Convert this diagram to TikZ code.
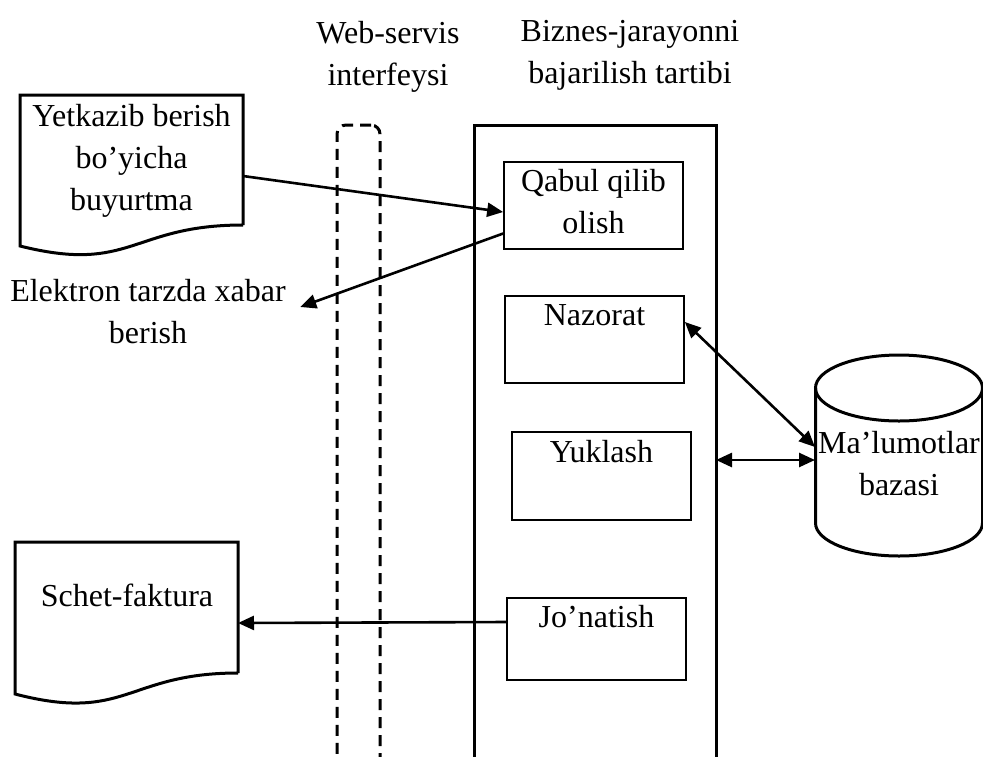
\documentclass[tikz,border=0pt]{standalone}
\usepackage{fontspec}
\setmainfont{Liberation Serif}
\usetikzlibrary{arrows.meta}

\tikzset{
  thickline/.style={line width=3pt},
  dashline/.style={line width=3pt,dash pattern=on 11pt off 7pt},
  stagebox/.style={draw,line width=1.7pt,minimum width=179pt,inner sep=0pt},
  arr/.style={line width=2.6pt,-{Triangle[length=16pt,width=14pt]}},
  dblarr/.style={line width=2.6pt,{Triangle[length=16pt,width=14pt]}-{Triangle[length=16pt,width=14pt]}},
  txt/.style={align=center,font=\fontsize{32}{42}\selectfont},
  ghost/.style={inner sep=0pt,outer sep=0pt}
}

\begin{document}
\begin{tikzpicture}[x=1pt,y=-1pt]
\useasboundingbox (0,0) rectangle (983,756);
\clip (0,0) rectangle (983,756);

% Column headings
\node[txt] (webhead) at (388,57) {Web-servis\\interfeysi};
\node[txt] (prochead) at (630,55) {Biznes-jarayonni\\bajarilish tartibi};

% Web service interface (dashed) and the business process frame
\node[draw,dashline,rounded corners=9pt,minimum width=43pt,minimum height=665pt,ghost] (webif) at (358.5,457.5) {};
\node[draw,thickline,minimum width=242pt,minimum height=665pt,ghost] (process) at (595,457.5) {};

% Stages of the process (top to bottom)
\node[stagebox,minimum height=87pt] (receive) at (593.5,205.5) {};
\node[txt] (receivetxt) at (593.5,202) {Qabul qilib\\olish};

\node[stagebox,minimum height=87pt] (control) at (594.5,339.5) {};
\node[txt,anchor=north,yshift=-6pt] (controltxt) at (control.north) {Nazorat};

\node[stagebox,minimum height=88pt] (load) at (601.5,476) {};
\node[txt,anchor=north,yshift=-6pt] (loadtxt) at (load.north) {Yuklash};

\node[stagebox,minimum height=82pt] (dispatch) at (596.5,639) {};
\node[txt,anchor=north,yshift=-5pt] (dispatchtxt) at (dispatch.north) {Jo’natish};

% Order document (wavy bottom)
\draw[thickline] (243,225) -- (243,95) -- (20,95) -- (20,246) .. controls (131.5,274) and (131.5,225) .. (243,225);
\node[ghost,minimum width=223pt,minimum height=162pt] (order) at (131.5,176) {};
\node[txt] (ordertxt) at (131.5,161) {Yetkazib berish\\bo’yicha\\buyurtma};

% Invoice document (wavy bottom)
\draw[thickline] (238,673) -- (238,542) -- (15,542) -- (15,694) .. controls (126.5,723) and (126.5,673) .. (238,673);
\node[ghost,minimum width=223pt,minimum height=163pt] (invoice) at (126.5,623) {};
\node[txt] (invoicetxt) at (127,595) {Schet-faktura};

% Electronic notice (plain text)
\node[txt] (notify) at (148,312) {Elektron tarzda xabar\\berish};

% Database cylinder
\draw[thickline] (899,388) ellipse [x radius=83.5pt, y radius=33pt];
\draw[thickline] (815.5,388) -- (815.5,523) arc [start angle=180, end angle=360, x radius=83.5pt, y radius=33pt] -- (982.5,388);
\node[ghost,minimum width=168pt,minimum height=202pt] (db) at (899,460) {};
\node[txt] (dbtxt) at (899,464) {Ma’lumotlar\\bazasi};

% Connectors
\draw[arr] (order.east) -- ([yshift=-6.5pt]receive.west);
\draw[arr] ([yshift=-28pt]receive.west) -- ([xshift=11pt,yshift=5pt]notify.east);
\draw[dblarr] ([yshift=17.5pt]control.east) -- ([yshift=13pt]db.west);
\draw[dblarr] (process.east |- db.west) -- (db.west);
\draw[arr] ([yshift=17pt]dispatch.west) -- (invoice.east);

\end{tikzpicture}
\end{document}
